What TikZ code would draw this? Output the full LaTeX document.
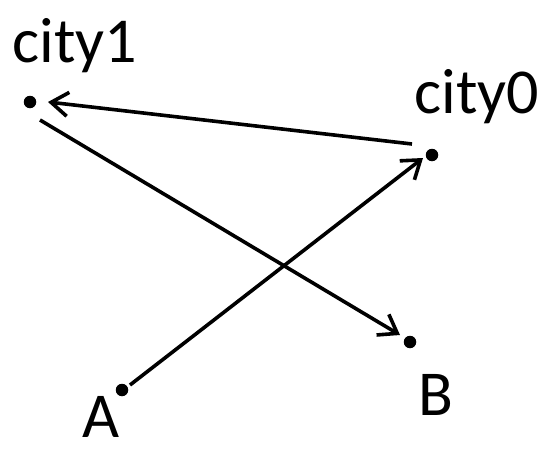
\documentclass[tikz,border=0pt]{standalone}
\usepackage{fontspec}
\setmainfont{Carlito}
\usetikzlibrary{arrows.meta}
\begin{document}
\begin{tikzpicture}[x=1pt,y=-1pt,
  dot/.style={circle,fill=black,inner sep=0pt,minimum size=12.5pt},
  lbl/.style={anchor=base,inner sep=0pt,font=\fontsize{64}{70}\selectfont},
  arr/.style={line width=3.6pt,-{Straight Barb[length=17pt,width=24pt,line width=3.6pt]}}]
\useasboundingbox (0,0) rectangle (558,471);
\node[dot] (c1) at (30,102) {};
\node[dot] (c0) at (432,155) {};
\node[dot] (a) at (122,390) {};
\node[dot] (b) at (410,342) {};
\node[lbl] (l1) at (75,63) {city1};
\node[lbl] (l0) at (477,113) {city0};
\node[lbl] (la) at (101,437) {A};
\node[lbl] (lb) at (436,415) {B};
\draw[arr] ([shift={(-20,-11)}]c0.center) -- ([shift={(18,0)}]c1.center);
\draw[arr] ([shift={(10,18)}]c1.center) -- ([shift={(-10,-7)}]b.center);
\draw[arr] ([shift={(8,-5)}]a.center) -- ([shift={(-9,3)}]c0.center);
\end{tikzpicture}
\end{document}
